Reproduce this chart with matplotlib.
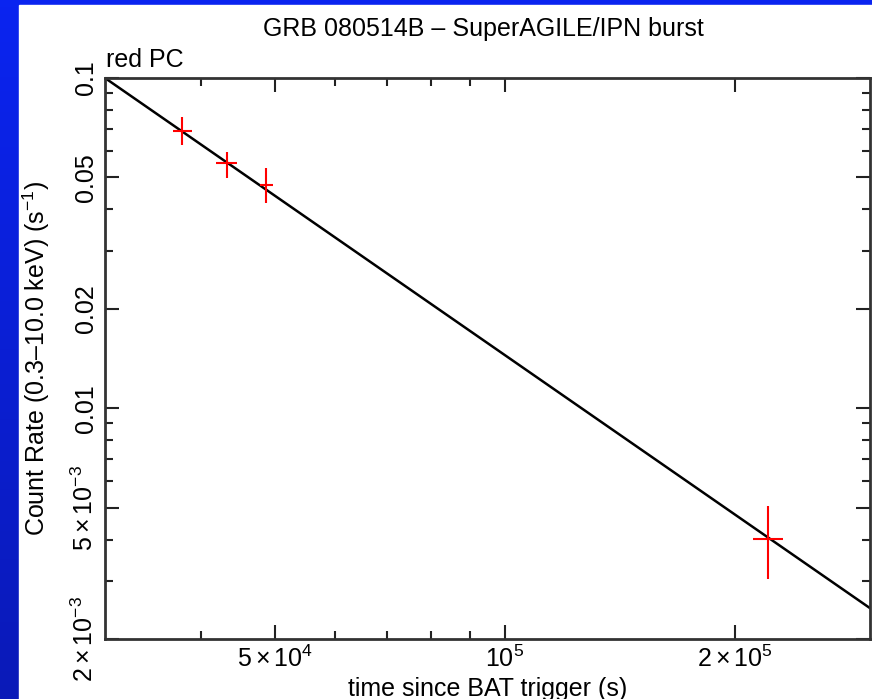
import numpy as np
import matplotlib
matplotlib.use('Agg')
import matplotlib.pyplot as plt
from matplotlib.patches import Rectangle
from matplotlib.colors import LinearSegmentedColormap
from matplotlib.ticker import FixedLocator, FixedFormatter, NullFormatter

plt.rcParams['font.family'] = 'Liberation Sans'
plt.rcParams['mathtext.fontset'] = 'custom'
plt.rcParams['mathtext.rm'] = 'Liberation Sans'
plt.rcParams['mathtext.it'] = 'Liberation Sans'

# data
t = [37800, 43300, 48700, 221000]
t_lo = [36800, 41900, 47800, 211000]
t_hi = [39000, 44600, 49700, 231000]
rate = [0.0690, 0.0551, 0.0473, 0.00403]
rate_lo = [0.0626, 0.0497, 0.0417, 0.00304]
rate_hi = [0.0761, 0.0596, 0.0533, 0.00504]

# power-law model line
model_t = [3e4, 3e5]
model_rate = [0.1, 0.00248]

x_major = [5e4, 1e5, 2e5]
x_major_labels = [r'$5\times10^4$', r'$10^5$', r'$2\times10^5$']
x_minor = [4e4, 6e4, 7e4, 8e4, 9e4]
y_major = [0.1, 0.05, 0.02, 0.01, 0.005, 0.002]
y_major_labels = ['0.1', '0.05', '0.02', '0.01', r'$5\times10^{-3}$', r'$2\times10^{-3}$']
y_minor = [0.09, 0.08, 0.07, 0.06, 0.04, 0.03, 0.009, 0.008, 0.007, 0.006, 0.004, 0.003]

fs = 18

fig = plt.figure(figsize=(8.72, 6.99), dpi=100)

# blue frame background
bg = fig.add_axes([0, 0, 1, 1], zorder=-10)
cmap = LinearSegmentedColormap.from_list('frame', ['#0a24f0', '#0a1ab8'])
bg.imshow(np.linspace(0, 1, 100).reshape(-1, 1), aspect='auto', cmap=cmap,
          extent=[0, 1, 0, 1], origin='upper')
bg.add_patch(Rectangle((19 / 872, 0), 1, 1 - 5 / 699, color='white'))
bg.set_xlim(0, 1)
bg.set_ylim(0, 1)
bg.axis('off')

ax = fig.add_axes([105 / 872, 1 - 639 / 699, 765 / 872, 561 / 699])
ax.set_xscale('log')
ax.set_yscale('log')
ax.set_xlim(3e4, 3e5)
ax.set_ylim(0.002, 0.1)

ax.plot(model_t, model_rate, color='black', lw=1.8)

rate_a = np.array(rate)
t_a = np.array(t)
ax.errorbar(t, rate,
            xerr=[t_a - np.array(t_lo), np.array(t_hi) - t_a],
            yerr=[rate_a - np.array(rate_lo), np.array(rate_hi) - rate_a],
            fmt='none', ecolor='red', elinewidth=1.5, capsize=0)

ax.xaxis.set_major_locator(FixedLocator(x_major))
ax.xaxis.set_major_formatter(FixedFormatter(x_major_labels))
ax.xaxis.set_minor_locator(FixedLocator(x_minor))
ax.xaxis.set_minor_formatter(NullFormatter())
ax.yaxis.set_major_locator(FixedLocator(y_major))
ax.yaxis.set_major_formatter(FixedFormatter(y_major_labels))
ax.yaxis.set_minor_locator(FixedLocator(y_minor))
ax.yaxis.set_minor_formatter(NullFormatter())

ax.tick_params(which='both', direction='in', top=True, right=True,
               labelsize=fs, colors='#222222', labelcolor='black')
ax.tick_params(which='major', length=10, width=1.5, pad=5)
ax.tick_params(which='minor', length=6, width=1.5)
for lbl in ax.get_yticklabels():
    lbl.set_rotation(90)
    lbl.set_va('center')
for s in ax.spines.values():
    s.set_linewidth(2)
    s.set_color('#333333')

ax.set_xlabel('time since BAT trigger (s)', fontsize=fs, labelpad=3)
ax.set_ylabel('Count Rate (0.3–10.0 keV) (s$^{-1}$)', fontsize=fs, labelpad=14)

fig.text(483 / 872, 1 - 29 / 699, 'GRB 080514B – SuperAGILE/IPN burst',
         fontsize=fs, ha='center', va='center')
fig.text(106 / 872, 1 - 60 / 699, 'red PC', fontsize=fs, ha='left', va='center')

fig.savefig('out.png', dpi=100)
